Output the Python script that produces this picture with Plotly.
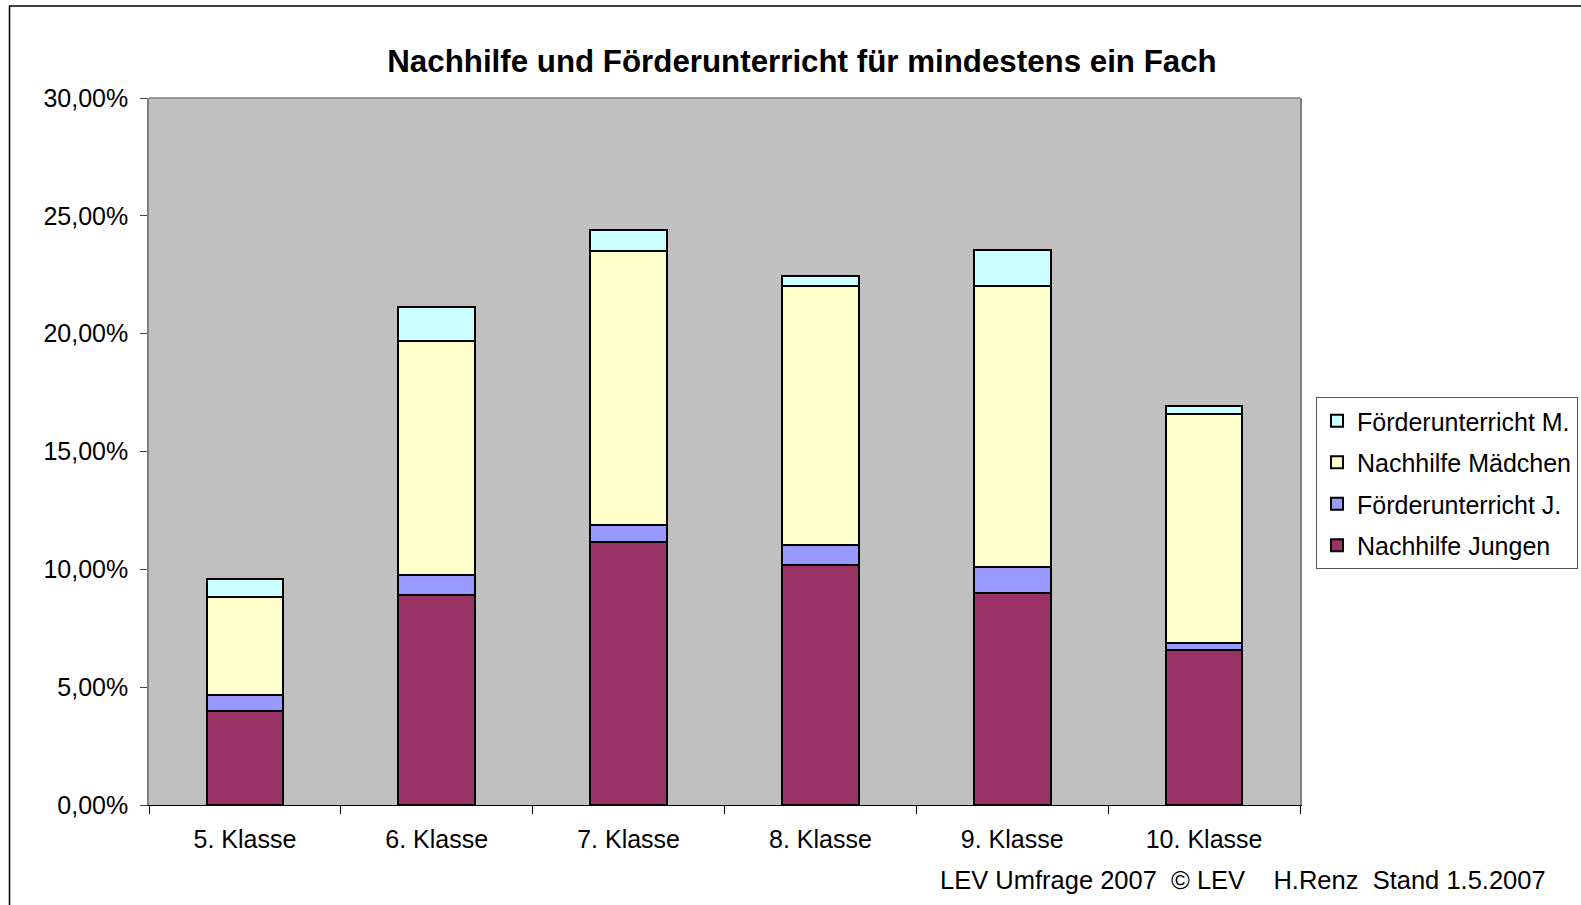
import plotly.graph_objects as go

categories = ["5. Klasse", "6. Klasse", "7. Klasse", "8. Klasse", "9. Klasse", "10. Klasse"]
nachhilfe_jungen = [0.0399, 0.0892, 0.1117, 0.1018, 0.0899, 0.0658]
foerder_jungen = [0.0069, 0.0085, 0.0070, 0.0084, 0.0109, 0.0028]
nachhilfe_maedchen = [0.0416, 0.0993, 0.1165, 0.1100, 0.1194, 0.0973]
foerder_maedchen = [0.0076, 0.0143, 0.0086, 0.0042, 0.0153, 0.0034]

series = [
    ("Nachhilfe Jungen", nachhilfe_jungen, "#993366", 4),
    ("Förderunterricht J.", foerder_jungen, "#9999FF", 3),
    ("Nachhilfe Mädchen", nachhilfe_maedchen, "#FFFFCC", 2),
    ("Förderunterricht M.", foerder_maedchen, "#CCFFFF", 1),
]

FONT = "Arial, Liberation Sans, sans-serif"

fig = go.Figure()
for name, vals, color, rank in series:
    fig.add_trace(go.Bar(
        x=categories, y=vals, name=name, legendgroup=name, legendrank=rank,
        marker=dict(color=color, line=dict(color="black", width=2)),
    ))

W, H = 1581, 905
L, R, T, B = 149, 1300, 98, 805
pw, ph = R - L, B - T

def px(x):
    return (x - L) / pw

def py(y):
    return (B - y) / ph

fig.update_layout(
    width=W, height=H,
    margin=dict(l=L, r=W - R, t=T, b=H - B, autoexpand=False),
    barmode="stack", bargap=0.6,
    paper_bgcolor="white", plot_bgcolor="#C0C0C0",
    separators=",.",
    font=dict(family=FONT, size=25, color="black"),
    title=dict(text="<b>Nachhilfe und Förderunterricht für mindestens ein Fach</b>",
               font=dict(family=FONT, size=31.3, color="black"),
               xref="paper", x=px(802), xanchor="center",
               yref="container", y=1 - 61.5 / H, yanchor="middle"),
    showlegend=True,
    legend=dict(x=px(1316), y=py(397), xanchor="left", yanchor="top",
                bgcolor="white", bordercolor="#555555", borderwidth=1,
                font=dict(family=FONT, size=25, color="black"),
                traceorder="grouped", tracegroupgap=6,
                itemwidth=30),
    xaxis=dict(type="category", showgrid=False, showline=True, linecolor="black", linewidth=1,
               ticks="outside", tickson="boundaries", ticklen=8, tickcolor="black",
               ticklabelstandoff=12,
               tickfont=dict(family=FONT, size=25, color="black")),
    yaxis=dict(range=[0, 0.30], dtick=0.05, tickformat=".2%", showgrid=False,
               showline=True, linecolor="#808080", linewidth=1.5, mirror=True,
               ticks="outside", ticklen=7, tickcolor="#404040", zeroline=False,
               ticklabelstandoff=7,
               tickfont=dict(family=FONT, size=25, color="black")),
)

# top border of plot area
fig.add_shape(type="line", xref="paper", yref="paper", x0=0, x1=1, y0=1, y1=1,
              line=dict(color="#808080", width=1.5))
# outer chart frame
fig.add_shape(type="rect", xref="paper", yref="paper",
              x0=px(9.5), x1=px(1600), y0=py(920), y1=py(6),
              line=dict(color="black", width=1.5), fillcolor="rgba(0,0,0,0)")

fig.add_annotation(text="LEV Umfrage 2007\u00a0\u00a0© LEV\u00a0\u00a0\u00a0\u00a0H.Renz\u00a0\u00a0Stand 1.5.2007",
                   xref="paper", yref="paper", x=px(938), y=py(880),
                   xanchor="left", yanchor="middle", showarrow=False,
                   font=dict(family=FONT, size=25.5, color="black"))

fig.write_html("out.html", config={"displayModeBar": False},
               post_script="document.body.style.margin='0';")
